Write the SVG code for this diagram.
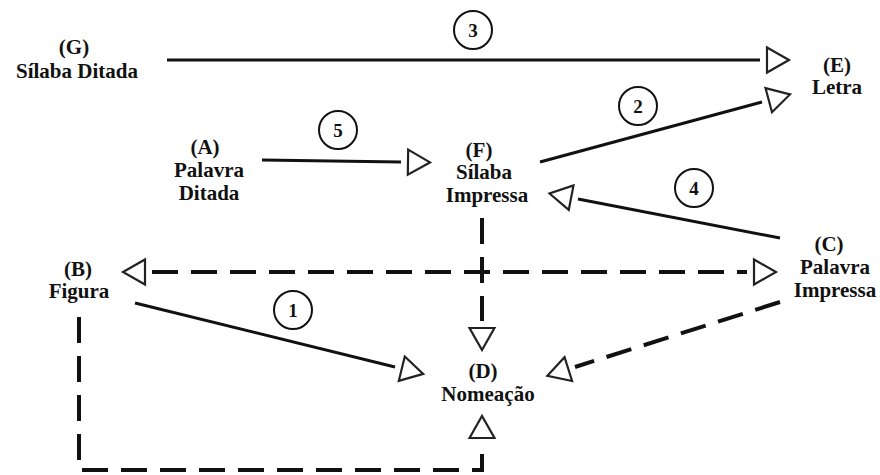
<svg xmlns="http://www.w3.org/2000/svg" width="880" height="475" viewBox="0 0 880 475" font-family="'Liberation Serif', 'DejaVu Serif', serif">
<style>
  text { font-family: 'Liberation Serif', 'DejaVu Serif', serif; font-weight: 700; font-size: 21px; fill: #111; text-anchor: middle; }
  .num { font-size: 19px; }
  .solid { stroke: #111; stroke-width: 3; fill: none; marker-end: url(#tri); }
  .dash { stroke: #111; stroke-width: 4; fill: none; stroke-dasharray: 26 13; marker-end: url(#tri); }
  .badge { fill: #fff; stroke: #111; stroke-width: 2; }
</style>
<defs>
  <marker id="tri" markerUnits="userSpaceOnUse" orient="auto-start-reverse" markerWidth="40" markerHeight="40" refX="0" refY="0" viewBox="-5 -20 40 40" overflow="visible">
    <path d="M7,-12.5 L29,0 L7,12.5 Z" fill="#fff" stroke="#222" stroke-width="2.2" stroke-linejoin="miter"/>
  </marker>
</defs>
<rect width="880" height="475" fill="#fff"/>

<g id="connectors">
  <line class="solid" x1="167" y1="60" x2="760" y2="60"/>
  <line class="solid" x1="540" y1="162" x2="762" y2="102"/>
  <line class="solid" x1="262" y1="160" x2="401" y2="162"/>
  <line class="solid" x1="780" y1="238" x2="578" y2="199"/>
  <line class="solid" x1="135" y1="303" x2="395" y2="367"/>
  <line class="dash" x1="152" y1="272" x2="747" y2="272" style="marker-start:url(#tri)"/>
  <line class="dash" x1="482" y1="218" x2="482" y2="321"/>
  <line class="dash" x1="780" y1="302" x2="575" y2="367"/>
  <path class="dash" d="M79,317 V470 H482 V445"/>
  <g id="badges">
    <circle class="badge" cx="473" cy="30" r="19"/>
    <text class="num" x="473" y="37">3</text>
    <circle class="badge" cx="638" cy="106" r="19"/>
    <text class="num" x="638" y="113">2</text>
    <circle class="badge" cx="338" cy="130" r="19"/>
    <text class="num" x="338" y="137">5</text>
    <circle class="badge" cx="694" cy="188" r="19"/>
    <text class="num" x="694" y="195">4</text>
    <circle class="badge" cx="293" cy="310" r="19"/>
    <text class="num" x="293" y="317">1</text>
  </g>
</g>

<g id="node-G">
  <text x="74" y="54">(G)</text>
  <text x="77" y="78">Sílaba Ditada</text>
</g>
<g id="node-E">
  <text x="837" y="72">(E)</text>
  <text x="837" y="94">Letra</text>
</g>
<g id="node-A">
  <text x="205" y="154">(A)</text>
  <text x="209" y="177">Palavra</text>
  <text x="209" y="200">Ditada</text>
</g>
<g id="node-F">
  <text x="479" y="157">(F)</text>
  <text x="484" y="179">Sílaba</text>
  <text x="487" y="202">Impressa</text>
</g>
<g id="node-B">
  <text x="78" y="276">(B)</text>
  <text x="79" y="298">Figura</text>
</g>
<g id="node-C">
  <text x="829" y="251">(C)</text>
  <text x="835" y="274">Palavra</text>
  <text x="835" y="297">Impressa</text>
</g>
<g id="node-D">
  <text x="483" y="378">(D)</text>
  <text x="488" y="401">Nomeação</text>
</g>
</svg>
